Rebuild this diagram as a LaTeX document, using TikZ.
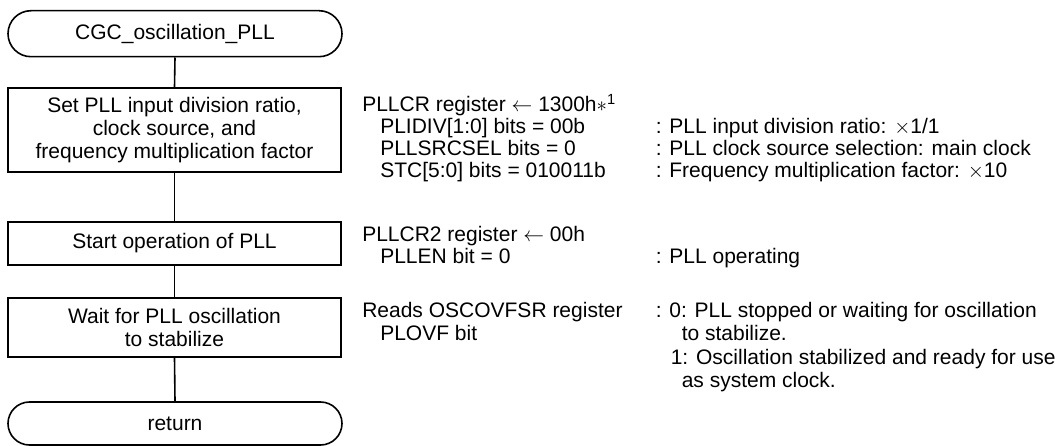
\documentclass[tikz,border=0pt]{standalone}
\usepackage{fontspec}
\setmainfont{Liberation Sans}
\begin{document}
\begin{tikzpicture}[x=1pt,y=-1pt,line width=1.6pt,
  every node/.style={font=\fontsize{21pt}{23pt}\selectfont,inner sep=0pt},
  proc/.style={draw,minimum width=333pt,align=center},
  term/.style={draw,rounded corners=23pt,minimum width=334pt,minimum height=46pt},
  txt/.style={anchor=base west,text height=15pt,text depth=4pt}]
\useasboundingbox (0,0) rectangle (1055,446);
% flowchart
\node[term] (start) at (175,33.7) {CGC\_oscillation\_PLL};
\node[proc,minimum height=84pt] (s1) at (174.5,130) {Set PLL input division ratio,\\clock source, and\\frequency multiplication factor};
\node[proc,minimum height=43pt] (s2) at (174.5,243.5) {Start operation of PLL};
\node[proc,minimum height=59pt] (s3) at (174.5,327.5) {Wait for PLL oscillation\\to stabilize};
\node[term,minimum height=43pt,rounded corners=21.5pt] (ret) at (175,423.5) {return};
\draw (start.south) -- (s1.north);
\draw (s1.south) -- (s2.north);
\draw (s2.south) -- (s3.north);
\draw (s3.south) -- (ret.north);
% block 1
\node[txt] (a1) at (361.5,112) {PLLCR register $\leftarrow$ 1300h$\ast$\textsuperscript{1}};
\node[txt] (a2) at (379.5,134) {PLIDIV[1:0] bits = 00b};
\node[txt] (a3) at (379.5,156) {PLLSRCSEL bits = 0};
\node[txt] (a4) at (379.5,178) {STC[5:0] bits = 010011b};
\node[txt] (b2) at (655,134) {: PLL input division ratio: $\times$1/1};
\node[txt] (b3) at (655,156) {: PLL clock source selection: main clock};
\node[txt] (b4) at (655,178) {: Frequency multiplication factor: $\times$10};
% block 2
\node[txt] (c1) at (361.5,242) {PLLCR2 register $\leftarrow$ 00h};
\node[txt] (c2) at (379.5,264) {PLLEN bit = 0};
\node[txt] (d2) at (655,264) {: PLL operating};
% block 3
\node[txt] (e1) at (361.5,318) {Reads OSCOVFSR register};
\node[txt] (e2) at (379.5,341) {PLOVF bit};
\node[txt] (f1) at (655,318) {: 0: PLL stopped or waiting for oscillation};
\node[txt] (f2) at (681,341) {to stabilize.};
\node[txt] (f3) at (670,364) {1: Oscillation stabilized and ready for use};
\node[txt] (f4) at (681,387) {as system clock.};
\end{tikzpicture}
\end{document}
